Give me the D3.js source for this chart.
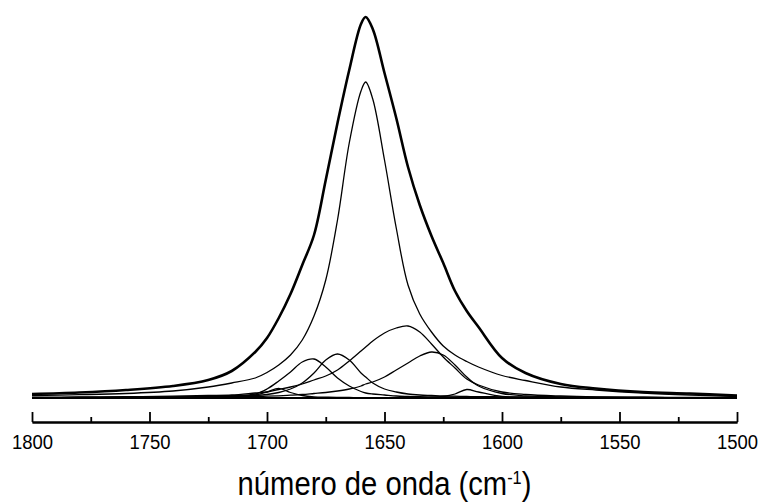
<!DOCTYPE html>
<meta charset="utf-8">
<style>
body { margin: 0; background: #fff; }
text { font-family: "Liberation Sans", Arial, sans-serif; fill: #000; }
</style>
<body>
<svg width="760" height="503"></svg>
<script src="https://d3js.org/d3.v7.min.js"></script>
<script>

// numero de onda (cm-1), grade comum a todas as curvas
var wavenumber = [1800,1780,1760,1740,1725,1715,1705,1700,1695,1690,1685,1680,1675,1670,1665,1660,1658,1655,
                  1650,1645,1640,1635,1630,1625,1620,1615,1610,1600,1590,1575,1560,1540,1520,1500];

// espectro medido (envolvente), u.a.
var envolvente = [.04,.055,.08,.12,.18,.27,.46,.60,.80,1.04,1.33,1.63,2.18,2.75,3.28,3.74,3.81,3.69,
                  3.25,2.80,2.31,1.93,1.62,1.35,1.07,.87,.71,.40,.25,.14,.095,.06,.045,.025];

// bandas ajustadas
var banda1658 = [.025,.033,.045,.07,.11,.15,.20,.255,.33,.43,.58,.82,1.18,1.78,2.55,3.07,3.16,2.99,
                 2.38,1.70,1.13,.84,.66,.52,.43,.365,.31,.225,.175,.11,.08,.05,.03,.015];
var banda1682 = [.004,.005,.007,.01,.016,.024,.04,.09,.17,.26,.36,.39,.31,.20,.12,.065,.05,.04,
                 .03,.02,.016,.013,.011,.01,.009,.008,.007,.006,.005,.004,.003,.003,.002,.002];
var banda1670 = [.004,.005,.006,.009,.012,.015,.025,.035,.055,.09,.15,.25,.38,.44,.38,.25,.21,.15,
                 .09,.06,.04,.03,.025,.02,.018,.015,.014,.012,.01,.008,.006,.005,.004,.003];
var banda1641 = [.008,.01,.013,.018,.025,.03,.05,.06,.085,.11,.14,.18,.22,.28,.37,.47,.51,.57,
                 .65,.70,.72,.66,.54,.41,.30,.19,.13,.06,.035,.02,.012,.008,.006,.005];
var banda1629 = [.003,.004,.005,.007,.009,.011,.015,.018,.022,.028,.035,.045,.055,.07,.09,.12,.14,.16,
                 .21,.28,.35,.42,.46,.43,.33,.21,.12,.045,.022,.012,.008,.005,.004,.003];
var banda1614 = [.002,.002,.002,.002,.002,.002,.002,.002,.002,.002,.002,.002,.002,.002,.002,.002,.002,.002,
                 .002,.002,.002,.003,.005,.015,.04,.085,.06,.015,.006,.003,.002,.002,.002,.002];
var banda1695 = [.003,.003,.003,.003,.004,.008,.03,.06,.097,.055,.025,.012,.008,.006,.005,.004,.003,.003,
                 .003,.003,.003,.003,.003,.003,.003,.003,.003,.003,.003,.003,.003,.003,.003,.003];
var linhaBase = [0,0,0,0,0,0,0,0,0,0,0,0,0,0,0,0,0,0,0,0,0,0,0,0,0,0,0,0,0,0,0,0,0,0];

var majorTicks = [1800,1750,1700,1650,1600,1550,1500];
var minorTicks = [1775,1725,1675,1625,1575,1525];
var xTitle = "número de onda (cm";

var svg = d3.select("svg");

var x = d3.scaleLinear().domain([1800, 1500]).range([32, 737]);
var y = d3.scaleLinear().domain([0, 4]).range([398, -2]);

var line = d3.line()
  .x(function(d) { return x(d[0]); })
  .y(function(d) { return Math.min(y(d[1]), y(0)); })
  .curve(d3.curveCatmullRom.alpha(0.5));

function pts(vals) {
  return wavenumber.map(function(w, i) { return [w, vals[i]]; });
}

var bandas = [banda1695, banda1682, banda1670, banda1658, banda1641, banda1629, banda1614];

var curves = svg.append("g").attr("fill", "none").attr("stroke", "#000");
curves.append("path")
  .attr("d", line(pts(linhaBase)))
  .attr("stroke-width", 2);
bandas.forEach(function(b) {
  curves.append("path")
    .attr("d", line(pts(b)))
    .attr("stroke-width", 1.3);
});
curves.append("path")
  .attr("d", line(pts(envolvente)))
  .attr("stroke-width", 2.6);

// eixo x, ticks para cima
svg.append("g")
  .attr("transform", "translate(0,422)")
  .call(d3.axisBottom(x).tickValues(minorTicks).tickSizeInner(-5).tickSizeOuter(0).tickFormat(""));
var majorAxis = svg.append("g")
  .attr("transform", "translate(0,422)")
  .call(d3.axisBottom(x).tickValues(majorTicks).tickSizeInner(-10).tickSizeOuter(0).tickPadding(12)
        .tickFormat(d3.format("d")));

svg.selectAll(".domain").attr("stroke-width", 2.2);
svg.selectAll(".tick line").attr("stroke-width", 1.8);
majorAxis.selectAll("text")
  .attr("font-size", 21)
  .attr("font-family", "Liberation Sans, Arial, sans-serif")
  .attr("transform", "scale(0.88,1)");

var title = svg.append("text")
  .attr("transform", "translate(384.5,495) scale(0.86,1)")
  .attr("text-anchor", "middle")
  .attr("font-size", 34);
title.append("tspan").text(xTitle);
title.append("tspan").attr("font-size", 19).attr("dy", -11).text("-1");
title.append("tspan").attr("dy", 11).text(")");

</script>
</body>
